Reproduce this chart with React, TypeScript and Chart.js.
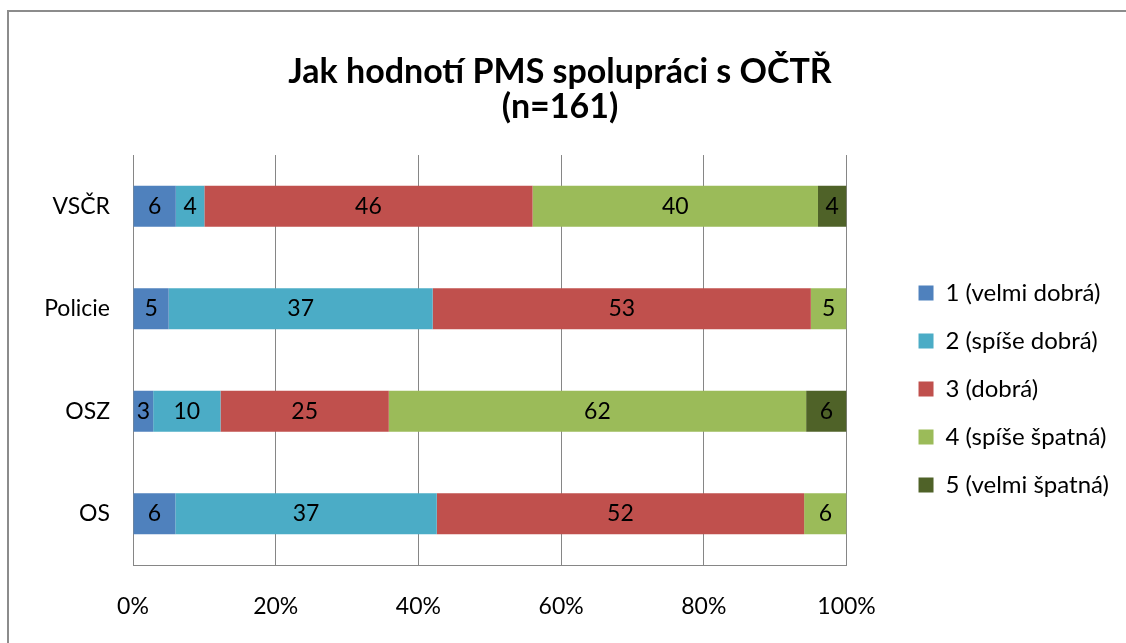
import { useEffect, useRef } from 'react';
import { Chart, registerables } from 'chart.js';

Chart.register(...registerables);

const categories = ['VSČR', 'Policie', 'OSZ', 'OS'];
const seriesNames = ['1 (velmi dobrá)', '2 (spíše dobrá)', '3 (dobrá)', '4 (spíše špatná)', '5 (velmi špatná)'];
const velmiDobra = [6, 5, 3, 6];
const spiseDobra = [4, 37, 10, 37];
const dobra = [46, 53, 25, 52];
const spiseSpatna = [40, 5, 62, 6];
const velmiSpatna = [4, 0, 6, 0];
const xTickValues = [0, 20, 40, 60, 80, 100];
const titleLines = ['Jak hodnotí PMS spolupráci s OČTŘ', '(n=161)'];
const seriesColors = ['#4F81BD', '#4BACC6', '#C0504D', '#9BBB59', '#4F6228'];

const FONT = 'Lato';

const frame = {
  id: 'frame',
  beforeDraw(chart: any) {
    const ctx = chart.ctx;
    ctx.save();
    ctx.fillStyle = '#ffffff';
    ctx.fillRect(0, 0, chart.width, chart.height);
    ctx.strokeStyle = '#8c8c8c';
    ctx.lineWidth = 2;
    ctx.strokeRect(8, 11, chart.width + 20, chart.height + 20);
    ctx.restore();
  },
};

const boxShift = {
  id: 'boxShift',
  afterLayout(chart: any) {
    const lg = chart.legend;
    if (lg) {
      const dx = 48;
      const dy = 29;
      lg.left += dx;
      lg.right += dx;
      lg.top += dy;
      lg.bottom += dy;
    }
    const tb = chart.titleBlock;
    if (tb) {
      const tdx = 24.5;
      tb.left += tdx;
      tb.right += tdx;
    }
  },
};

const valueLabels = {
  id: 'valueLabels',
  afterDatasetsDraw(chart: any) {
    const ctx = chart.ctx;
    ctx.save();
    ctx.font = `23px ${FONT}`;
    ctx.fillStyle = '#000000';
    ctx.textAlign = 'center';
    ctx.textBaseline = 'middle';
    chart.data.datasets.forEach((ds: any, di: number) => {
      const meta = chart.getDatasetMeta(di);
      meta.data.forEach((el: any, i: number) => {
        const v = ds.rawValues[i];
        if (!v) return;
        const p = el.getProps(['x', 'y', 'base'], true);
        ctx.fillText(String(v), (p.x + p.base) / 2, p.y);
      });
    });
    ctx.restore();
  },
};

export default function App() {
  const ref = useRef<HTMLCanvasElement>(null);

  useEffect(() => {
    if (!ref.current) return;
    const series = [velmiDobra, spiseDobra, dobra, spiseSpatna, velmiSpatna];
    const totals = categories.map((_, i) => series.reduce((s, arr) => s + arr[i], 0));
    const datasets = series.map((arr, si) => ({
      label: seriesNames[si],
      data: arr.map((v, i) => (v / totals[i]) * 100),
      rawValues: arr,
      backgroundColor: seriesColors[si],
      borderWidth: 0,
      barPercentage: 0.4,
      categoryPercentage: 1,
    }));

    const chart = new Chart(ref.current, {
      type: 'bar',
      data: { labels: categories, datasets: datasets as any },
      options: {
        indexAxis: 'y',
        responsive: false,
        animation: false,
        devicePixelRatio: 1,
        layout: { padding: { top: 0, left: 0, right: 55, bottom: 22 } },
        font: { family: FONT },
        plugins: {
          title: {
            display: true,
            text: titleLines,
            color: '#000000',
            font: { family: FONT, size: 34, weight: 'bold', lineHeight: 1.03 },
            padding: { top: 55, bottom: 30 },
          },
          legend: {
            display: true,
            position: 'right',
            fullSize: false,
            labels: {
              color: '#000000',
              font: { family: FONT, size: 24 },
              boxWidth: 15,
              boxHeight: 15,
              padding: 24,
            },
          },
          tooltip: { enabled: false },
        },
        scales: {
          x: {
            stacked: true,
            min: 0,
            max: 100,
            afterBuildTicks: (scale: any) => {
              scale.ticks = xTickValues.map((v) => ({ value: v }));
            },
            afterFit: (scale: any) => {
              scale.height = 56;
            },
            ticks: {
              color: '#000000',
              font: { family: FONT, size: 23 },
              padding: 28,
              maxRotation: 0,
              callback: (v: any) => `${v}%`,
            },
            grid: { color: '#868686', lineWidth: 1, drawTicks: false },
            border: { display: true, color: '#868686', width: 1 },
          },
          y: {
            stacked: true,
            afterFit: (scale: any) => {
              scale.width = 133;
            },
            ticks: {
              color: '#000000',
              font: { family: FONT, size: 23 },
              padding: 23,
            },
            grid: { display: false, drawTicks: false },
            border: { display: true, color: '#868686', width: 1 },
          },
        },
      },
      plugins: [frame, boxShift, valueLabels],
    });
    return () => chart.destroy();
  }, []);

  return (
    <div style={{ position: 'absolute', left: 0, top: 0, width: 1126, height: 643 }}>
      <canvas ref={ref} width={1126} height={643} />
    </div>
  );
}
